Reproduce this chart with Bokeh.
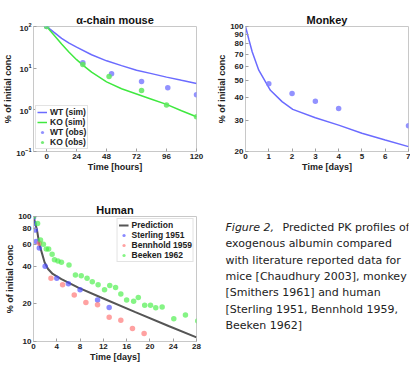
from bokeh.plotting import figure
from bokeh.layouts import row, column
from bokeh.models import FixedTicker, Range1d, Legend, LegendItem, Label
from bokeh.embed import file_html
from bokeh.resources import INLINE

# ---------------- data ----------------
# alpha-chain mouse (hours, % of initial conc)
mouse_wt_sim_t = [0, 6, 12, 18, 24, 36, 48, 60, 72, 84, 96, 108, 120]
mouse_wt_sim_v = [100, 72, 52, 40, 32, 21, 15, 11.5, 8.9, 7.4, 6.1, 5.1, 4.3]
mouse_ko_sim_t = [0, 6, 12, 18, 24, 30, 36, 48, 60, 72, 84, 96, 108, 120]
mouse_ko_sim_v = [100, 62, 38, 24, 16, 11.2, 8.0, 4.7, 3.2, 2.4, 1.8, 1.35, 0.95, 0.68]
mouse_wt_obs_t = [0, 29, 52, 76, 97, 120]
mouse_wt_obs_v = [100, 13.4, 7.3, 4.8, 3.4, 2.3]
mouse_ko_obs_t = [0, 29, 50, 76, 96, 120]
mouse_ko_obs_v = [100, 12.2, 6.3, 2.9, 1.3, 0.68]
mouse_xticks = [0, 24, 48, 72, 96, 120]
mouse_yticks = [0.1, 1, 10, 100]

# Monkey (days)
monkey_sim_t = [0, 0.15, 0.29, 0.57, 0.86, 1.07, 1.57, 2.03, 3, 4, 5, 6, 7]
monkey_sim_v = [100, 84, 72, 57, 49, 44, 38, 34.4, 30.9, 28.1, 25.3, 23.2, 21.3]
monkey_obs_t = [1, 2, 3, 4, 7]
monkey_obs_v = [47.9, 42.2, 38.2, 34.8, 27.9]
monkey_xticks = [0, 1, 2, 3, 4, 5, 6, 7]
monkey_yticks = [20, 30, 40, 50, 60, 70, 80, 90, 100]

# Human (days)
human_pred_t = [0, 0.6, 1.0, 1.5, 1.9, 2.5, 3.3, 4.8, 7.7, 11.7, 17.5, 23.2, 28]
human_pred_v = [100, 78, 60, 50, 43, 38, 34.7, 31.6, 27, 22.4, 17.2, 13.3, 10.8]
sterling_t = [0, 0.1, 0.3, 0.45, 1.0, 2.0, 4.0, 6.0, 8.0, 11.0, 13.0]
sterling_v = [98, 88, 78, 63, 56, 40, 32, 29, 26, 21.5, 18.7]
bennhold_t = [1, 3, 5, 7, 9, 11, 13, 15, 17, 19]
bennhold_v = [61, 32, 28.5, 23.5, 20.5, 19.7, 15.6, 14.8, 12.7, 11.6]
beeken_t = [0, 0.7, 1.2, 1.7, 2.2, 2.6, 3.2, 3.6, 4.2, 4.8, 6.1, 7.2, 8.2, 9.2, 10.1,
            11.1, 12.2, 13.1, 14.1, 15.0, 16.0, 17.2, 18.0, 19.1, 20.1, 21.0, 22.1,
            24.1, 26.1, 28.2]
beeken_v = [100, 88, 65, 60, 55, 55, 50, 45, 44, 43, 41, 34, 33.5, 32, 30,
            28.5, 26, 28, 27, 24, 21.5, 21, 22.5, 19.5, 19.5, 18.6, 18.9,
            15.2, 16.3, 14.6]
human_xticks = [0, 4, 8, 12, 16, 20, 24, 28]
human_yticks = [10, 20, 40, 60, 80, 100]

caption_first_italic = "Figure 2,"
caption_first_rest = "Predicted PK profiles of"
caption_lines = ["exogenous albumin compared",
                 "with literature reported data for",
                 "mice [Chaudhury 2003], monkey",
                 "[Smithers 1961] and human",
                 "[Sterling 1951, Bennhold 1959,",
                 "Beeken 1962]"]

# ---------------- style ----------------
FONT = "Liberation Sans"
CAP_FONT = "DejaVu Sans"
GRAYBOX = "#c8c8c8"
BLUE = "#6b6bff"
GREEN = "#3fe83f"
BLUE_PT = "#7f7fff"
GREEN_PT = "#5ee85e"
RED_PT = "#ff6f6f"


def style(p, ylabel, xlabel, xticks, yticks):
    p.outline_line_color = GRAYBOX
    p.grid.visible = False
    p.xaxis.axis_label = xlabel
    p.yaxis.axis_label = ylabel
    p.xaxis.ticker = FixedTicker(ticks=xticks, minor_ticks=[])
    p.yaxis.ticker = FixedTicker(ticks=yticks, minor_ticks=[])
    for ax in p.axis:
        ax.axis_line_color = GRAYBOX
        ax.major_tick_line_color = "#a0a0a0"
        ax.major_tick_in = 3
        ax.major_tick_out = 0
        ax.minor_tick_line_color = None
        ax.major_label_text_font = FONT
        ax.major_label_text_font_size = "8px"
        ax.major_label_text_font_style = "bold"
        ax.major_label_text_color = "#222222"
        ax.axis_label_text_font = FONT
        ax.axis_label_text_font_size = "9px"
        ax.axis_label_text_font_style = "bold"
        ax.axis_label_text_color = "#222222"
        ax.axis_label_standoff = 0
        ax.major_label_standoff = 2
    p.title.text_font = FONT
    p.title.text_font_size = "11px"
    p.title.text_font_style = "bold"
    p.title.align = "center"
    p.title.standoff = 2
    p.title.text_color = "#111111"


def legend_style(lg):
    lg.label_text_font = FONT
    lg.label_text_font_size = "8.5px"
    lg.label_text_font_style = "bold"
    lg.label_text_color = "#222222"
    lg.label_height = 8
    lg.label_width = 10
    lg.glyph_height = 8
    lg.glyph_width = 10
    lg.spacing = 0
    lg.padding = 1
    lg.margin = 2
    lg.label_standoff = 3
    lg.border_line_color = GRAYBOX
    lg.background_fill_alpha = 1.0


W1, W2 = 205, 205
H1, H2 = 190, 175
COL1 = dict(min_border_left=33, min_border_right=9)
COL2 = dict(min_border_left=40, min_border_right=2)
ROW1 = dict(min_border_top=26, min_border_bottom=39)
ROW2 = dict(min_border_top=26, min_border_bottom=24)

# ---------------- mouse ----------------
p1 = figure(width=W1, height=H1, title="α-chain mouse", y_axis_type="log",
            x_range=Range1d(-10.5, 120), y_range=Range1d(0.1, 100),
            output_backend="svg", toolbar_location=None, **COL1, **ROW1)
r_wt = p1.line(mouse_wt_sim_t, mouse_wt_sim_v, line_color=BLUE, line_width=1.5)
r_ko = p1.line(mouse_ko_sim_t, mouse_ko_sim_v, line_color=GREEN, line_width=1.5)
r_wto = p1.scatter(mouse_wt_obs_t, mouse_wt_obs_v, size=5.5, fill_color=BLUE_PT, line_color=None, fill_alpha=0.85)
r_koo = p1.scatter(mouse_ko_obs_t, mouse_ko_obs_v, size=5.5, fill_color=GREEN_PT, line_color=None, fill_alpha=0.85)
style(p1, "% of initial conc", "Time [hours]", mouse_xticks, mouse_yticks)
lg1 = Legend(items=[LegendItem(label="WT (sim)", renderers=[r_wt]),
                    LegendItem(label="KO (sim)", renderers=[r_ko]),
                    LegendItem(label="WT (obs)", renderers=[r_wto]),
                    LegendItem(label="KO (obs)", renderers=[r_koo])],
             location="bottom_left")
legend_style(lg1)
p1.add_layout(lg1)

# ---------------- monkey ----------------
p2 = figure(width=W2, height=H1, title="Monkey", y_axis_type="log",
            x_range=Range1d(0, 7), y_range=Range1d(20, 100),
            output_backend="svg", toolbar_location=None, **COL2, **ROW1)
p2.line(monkey_sim_t, monkey_sim_v, line_color=BLUE, line_width=1.5)
p2.scatter(monkey_obs_t, monkey_obs_v, size=5.5, fill_color=BLUE_PT, line_color=None, fill_alpha=0.85)
style(p2, "% of initial conc", "Time [days]", monkey_xticks, monkey_yticks)

# ---------------- human ----------------
p3 = figure(width=W1, height=H2, title="Human", y_axis_type="log",
            x_range=Range1d(0, 28), y_range=Range1d(10, 100),
            output_backend="svg", toolbar_location=None, **COL1, **ROW2)
r_pred = p3.line(human_pred_t, human_pred_v, line_color="#555555", line_width=2)
r_st = p3.scatter(sterling_t, sterling_v, size=5.5, fill_color="#4a4aff", line_color=None, fill_alpha=0.65)
r_be = p3.scatter(bennhold_t, bennhold_v, size=5.5, fill_color=RED_PT, line_color=None, fill_alpha=0.65)
r_bk = p3.scatter(beeken_t, beeken_v, size=5.5, fill_color="#44ee44", line_color=None, fill_alpha=0.65)
style(p3, "% of initial conc", "Time [days]", human_xticks, human_yticks)
lg3 = Legend(items=[LegendItem(label="Prediction", renderers=[r_pred]),
                    LegendItem(label="Sterling 1951", renderers=[r_st]),
                    LegendItem(label="Bennhold 1959", renderers=[r_be]),
                    LegendItem(label="Beeken 1962", renderers=[r_bk])],
             location="top_right")
legend_style(lg3)
p3.add_layout(lg3)

# ---------------- caption ----------------
# frame of this panel spans page x 205..408, y 216..341; ranges map data = page pixels
p4 = figure(width=W2, height=H2, title=None,
            x_range=Range1d(W1, W1 + W2 - 2), y_range=Range1d(H1 + H2 - 24, H1 + 26),
            output_backend="svg", toolbar_location=None,
            min_border_left=0, min_border_right=2, **ROW2)
p4.axis.visible = False
p4.grid.visible = False
p4.outline_line_color = None
cap_y = [226.7, 243, 259.5, 276, 292, 308.5, 325]
p4.add_layout(Label(x=225, y=cap_y[0], text=caption_first_italic, text_font=CAP_FONT,
                    text_font_style="italic", text_font_size="11px",
                    text_baseline="middle", text_color="#222222"))
p4.add_layout(Label(x=282, y=cap_y[0], text=caption_first_rest, text_font=CAP_FONT,
                    text_font_size="11px", text_baseline="middle", text_color="#222222"))
for line_text, yy in zip(caption_lines, cap_y[1:]):
    p4.add_layout(Label(x=225, y=yy, text=line_text, text_font=CAP_FONT,
                        text_font_size="11px", text_baseline="middle", text_color="#222222"))

layout = column(row(p1, p2), row(p3, p4))
open("out.html", "w").write(file_html(layout, INLINE))
